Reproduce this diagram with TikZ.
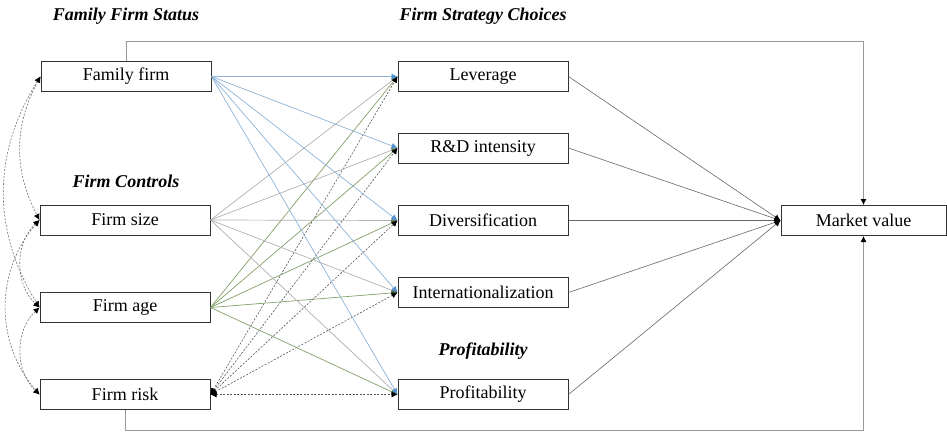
\documentclass[tikz,border=0pt]{standalone}
\usepackage{fontspec}
\setmainfont{Liberation Serif}
\usetikzlibrary{arrows.meta,positioning}

\definecolor{famblue}{RGB}{140,178,215}
\definecolor{famtip}{RGB}{80,145,210}
\definecolor{sizegray}{RGB}{175,175,175}
\definecolor{agegreen}{RGB}{130,160,105}
\definecolor{agetip}{RGB}{65,105,45}
\definecolor{riskgray}{RGB}{85,85,85}

\begin{document}
\begin{tikzpicture}[x=1pt,y=-1pt,
    var/.style={draw=black!80,line width=1pt,minimum width=170pt,minimum height=30pt,inner sep=0pt,font=\fontsize{18}{20}\selectfont},
    head/.style={font=\fontsize{18}{20}\selectfont\bfseries\itshape},
    tip/.style={-{Latex[length=6pt,width=6pt,#1]}},
    famline/.style={famblue,line width=0.7pt,tip={famtip}},
    sizeline/.style={sizegray,line width=0.7pt,tip={sizegray!80!black}},
    ageline/.style={agegreen,line width=0.7pt,tip={agetip}},
    riskline/.style={riskgray,line width=0.6pt,dashed,dash pattern=on 2pt off 1.5pt,
        {Latex[length=6pt,width=6pt,black]}-{Latex[length=6pt,width=6pt,black]}},
    mvline/.style={black!60,line width=0.6pt,tip={black}},
    corr/.style={black!55,line width=0.6pt,dash pattern=on 2pt off 1.5pt,
        {Latex[length=6pt,width=6pt,black]}-{Latex[length=6pt,width=6pt,black]}},
    frameline/.style={black!40,line width=0.8pt,tip={black}}]
\useasboundingbox (0,0) rectangle (947,431);

% headings
\node[head] at (126,16) {Family Firm Status};
\node[head] at (483,16) {Firm Strategy Choices};
\node[head] at (126,181) {Firm Controls};
\node[head] at (483,351) {Profitability};

% family firm and controls
\node[var] (ff) at (126,76.5) {Family firm};
\node[var] (fsize) at (125,220) {Firm size};
\node[var] (fage) at (125,307.5) {Firm age};
\node[var] (frisk) at (125,394.5) {Firm risk};

% strategy choices
\node[var] (lev) at (483,76.5) {Leverage};
\node[var] (rd) at (483,148) {R\&D intensity};
\node[var] (div) at (483,220.5) {Diversification};
\node[var] (intl) at (483,292.5) {Internationalization};
\node[var] (prof) at (483,394.5) {Profitability};

% outcome
\node[var,minimum width=165pt] (mv) at (863.5,220.5) {Market value};

% paths into the choices and on to market value
\foreach \t in {lev,rd,div,intl,prof} {
  \draw[sizeline] (fsize.east) -- (\t.west);
  \draw[ageline] (fage.east) -- (\t.west);
  \draw[riskline] (frisk.east) -- (\t.west);
  \draw[famline] (ff.east) -- (\t.west);
  \draw[mvline] (\t.east) -- (mv.west);
}

% direct paths
\draw[frameline] (ff.north) -- ++(0,-20) -| (mv.north);
\draw[frameline] (frisk.south) -- ++(0,20) -| (mv.south);

% covariances among the exogenous variables
\draw[corr] (ff.west) to[bend right=28] (fsize.west);
\draw[corr] (ff.west) to[bend right=32] (fage.west);
\draw[corr] (fsize.west) to[bend right=47] (fage.west);
\draw[corr] (fsize.west) to[bend right=41] (frisk.west);
\draw[corr] (fage.west) to[bend right=47] (frisk.west);
\end{tikzpicture}
\end{document}
